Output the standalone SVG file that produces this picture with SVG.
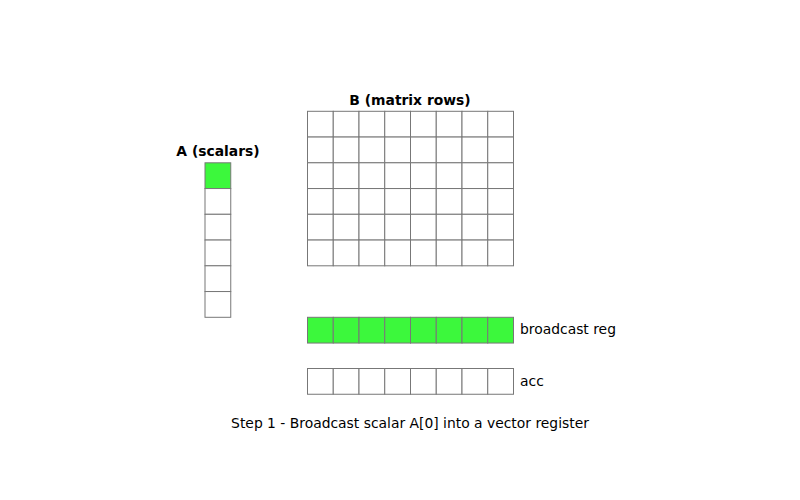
<svg xmlns="http://www.w3.org/2000/svg" width="800" height="500" viewBox="0 0 800 500">
<style>
.c{fill:#ffffff;stroke:#777777;stroke-width:1}
.g{fill:#3cf83c;stroke:#777777;stroke-width:1}
.t{font-family:"DejaVu Sans",sans-serif;font-size:13.89px;fill:#000}
.b{font-weight:bold;text-anchor:middle}
</style>
<defs>
<rect id="cw" class="c" width="25.75" height="25.75"/>
<rect id="cg" class="g" width="25.75" height="25.75"/>
</defs>
<rect width="800" height="500" fill="#ffffff"/>
<g id="A">
<text class="t b" x="218" y="155.5">A (scalars)</text>
<use href="#cg" x="205" y="162.8"/>
<use href="#cw" x="205" y="188.55"/>
<use href="#cw" x="205" y="214.3"/>
<use href="#cw" x="205" y="240.05"/>
<use href="#cw" x="205" y="265.8"/>
<use href="#cw" x="205" y="291.55"/>
</g>
<g id="B">
<text class="t b" x="410" y="104.5">B (matrix rows)</text>
<g id="Brow0">
<use href="#cw" x="307.5" y="111.3"/><use href="#cw" x="333.25" y="111.3"/><use href="#cw" x="359" y="111.3"/><use href="#cw" x="384.75" y="111.3"/><use href="#cw" x="410.5" y="111.3"/><use href="#cw" x="436.25" y="111.3"/><use href="#cw" x="462" y="111.3"/><use href="#cw" x="487.75" y="111.3"/>
</g>
<use href="#Brow0" y="25.75"/>
<use href="#Brow0" y="51.5"/>
<use href="#Brow0" y="77.25"/>
<use href="#Brow0" y="103"/>
<use href="#Brow0" y="128.75"/>
</g>
<g id="broadcast">
<use href="#cg" x="307.5" y="317.3"/><use href="#cg" x="333.25" y="317.3"/><use href="#cg" x="359" y="317.3"/><use href="#cg" x="384.75" y="317.3"/><use href="#cg" x="410.5" y="317.3"/><use href="#cg" x="436.25" y="317.3"/><use href="#cg" x="462" y="317.3"/><use href="#cg" x="487.75" y="317.3"/>
<text class="t" x="520" y="333.5">broadcast reg</text>
</g>
<g id="acc">
<use href="#cw" x="307.5" y="368.5"/><use href="#cw" x="333.25" y="368.5"/><use href="#cw" x="359" y="368.5"/><use href="#cw" x="384.75" y="368.5"/><use href="#cw" x="410.5" y="368.5"/><use href="#cw" x="436.25" y="368.5"/><use href="#cw" x="462" y="368.5"/><use href="#cw" x="487.75" y="368.5"/>
<text class="t" x="520" y="385.5">acc</text>
</g>
<g id="connectors"/>
<text class="t" x="410" y="427.5" text-anchor="middle">Step 1 - Broadcast scalar A[0] into a vector register</text>
</svg>
